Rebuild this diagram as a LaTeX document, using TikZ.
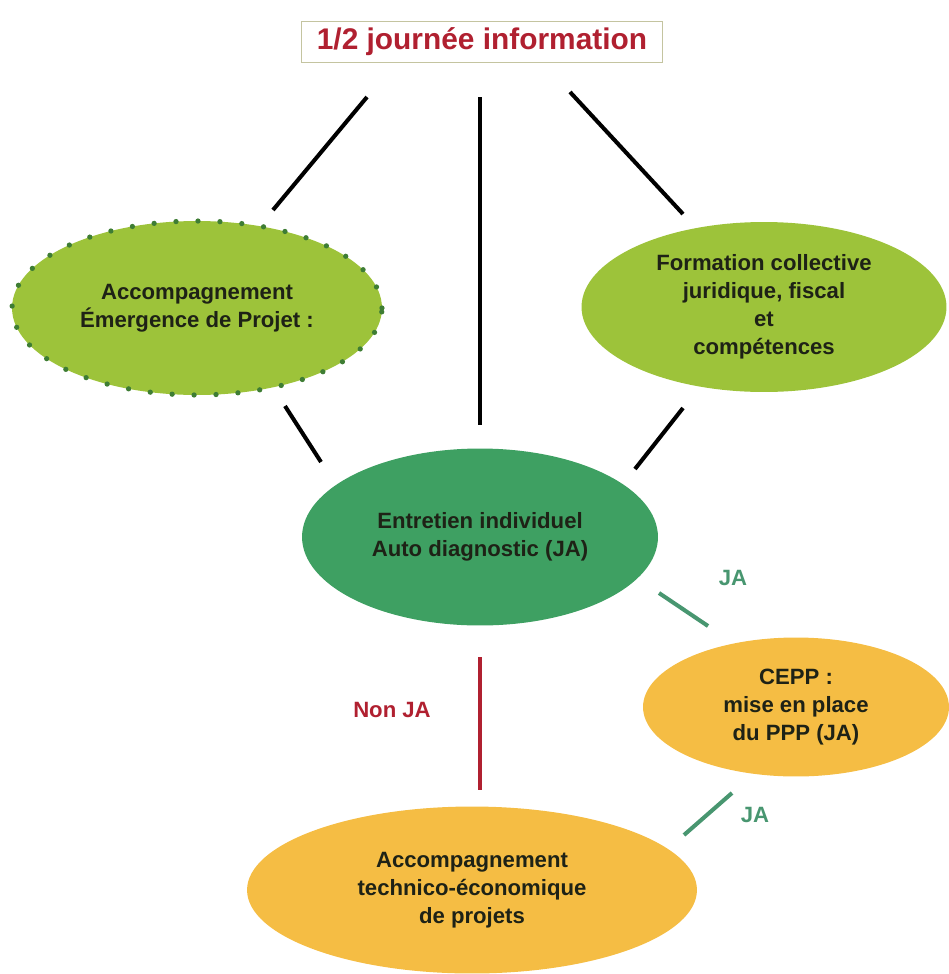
\documentclass[tikz,border=0pt]{standalone}
\usepackage{fontspec}
\setmainfont{Liberation Sans}
\usetikzlibrary{shapes.geometric}

\definecolor{leafgreen}{RGB}{157,195,58}
\definecolor{dotgreen}{RGB}{62,125,52}
\definecolor{midgreen}{RGB}{62,160,98}
\definecolor{sunorange}{RGB}{245,189,68}
\definecolor{titlered}{RGB}{176,32,48}
\definecolor{jagreen}{RGB}{72,150,112}
\definecolor{inkdark}{RGB}{30,34,22}
\definecolor{boxolive}{RGB}{196,196,160}

\tikzset{
  bubble/.style={ellipse,inner sep=0pt,align=center,text=inkdark,font=\bfseries\fontsize{12.6}{16}\selectfont},
  dotted rim/.style={draw=dotgreen,line width=3pt,line cap=round,dash pattern=on 0pt off 12.5pt},
  headbox/.style={draw=boxolive,line width=0.7pt,minimum width=7.22cm,minimum height=0.82cm,inner sep=0pt,text=titlered,font=\bfseries\fontsize{17}{20}\selectfont},
  tag/.style={font=\bfseries\fontsize{12.6}{15}\selectfont},
  link/.style={line width=2.3pt}
}

\begin{document}
\begin{tikzpicture}[x=0.02cm,y=-0.02cm]
\useasboundingbox (0,0) rectangle (948,974);

\node[headbox] (info) at (482,42) {1/2 journée information};

\node[bubble,fill=leafgreen,dotted rim,minimum width=7.4cm,minimum height=3.48cm] (emergence) at (197,308)
  {\fontsize{12.6}{18}\selectfont Accompagnement\\Émergence de Projet :};
\node[bubble,fill=leafgreen,minimum width=7.3cm,minimum height=3.4cm] (formation) at (764,307)
  {\fontsize{12.6}{14.8}\selectfont Formation collective\\juridique, fiscal\\et\\compétences};
\node[bubble,fill=midgreen,minimum width=7.12cm,minimum height=3.54cm] (entretien) at (480,537)
  {\fontsize{12.6}{16.4}\selectfont Entretien individuel\\Auto diagnostic (JA)};
\node[bubble,fill=sunorange,minimum width=6.12cm,minimum height=2.78cm] (cepp) at (796,707)
  {\fontsize{12.6}{14}\selectfont CEPP :\\mise en place\\du PPP (JA)};
\node[bubble,fill=sunorange,minimum width=9cm,minimum height=3.34cm] (technico) at (472,890)
  {\fontsize{12.6}{14.2}\selectfont Accompagnement\\technico-économique\\de projets};

\node[tag,text=titlered] (nonja) at (392,710) {Non JA};
\node[tag,text=jagreen] (jaup) at (733,578) {JA};
\node[tag,text=jagreen] (jadown) at (755,815) {JA};

% line ends
\coordinate (infoL) at (367,97);
\coordinate (infoC) at (480,97);
\coordinate (infoR) at (570,92);
\coordinate (emergenceT) at (273,210);
\coordinate (formationT) at (683,214);
\coordinate (emergenceB) at (285,406);
\coordinate (formationB) at (683,408);
\coordinate (entretienTL) at (321,462);
\coordinate (entretienT) at (480,425);
\coordinate (entretienTR) at (635,469);
\coordinate (entretienB) at (480,657);
\coordinate (entretienBR) at (659,593);
\coordinate (ceppT) at (708,626);
\coordinate (ceppB) at (732,793);
\coordinate (technicoT) at (480,790);
\coordinate (technicoR) at (684,835);

\path[link] (infoL) edge (emergenceT)
  (infoC) edge (entretienT)
  (infoR) edge (formationT)
  (emergenceB) edge (entretienTL)
  (formationB) edge (entretienTR);
\path[link,draw=titlered] (entretienB) edge (technicoT);
\path[link,draw=jagreen] (entretienBR) edge (ceppT)
  (ceppB) edge (technicoR);
\end{tikzpicture}
\end{document}
